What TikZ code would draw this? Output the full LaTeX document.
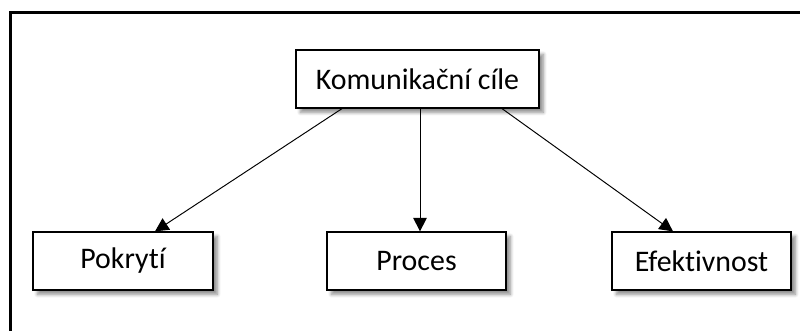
\documentclass[tikz,border=0pt]{standalone}
\usepackage{fontspec}
\setmainfont[RawFeature={-liga}]{Carlito}
\usetikzlibrary{arrows.meta,shadows.blur}
\begin{document}
\begin{tikzpicture}[
  cil/.style={draw, line width=0.7pt, fill=white, minimum height=1.16cm, font=\fontsize{17}{20}\selectfont,
    blur shadow={shadow xshift=2.5pt, shadow yshift=-2.5pt, shadow blur steps=6, shadow opacity=45}},
  conn/.style={line width=0.55pt, -{Triangle[length=0.27cm, width=0.27cm]}},
]
  \useasboundingbox (0,0) rectangle (16,-6.62);
  \clip (0,0) rectangle (16,-6.62);
  \draw[line width=1.8pt] (0.21,-0.25) rectangle (16.6,-7.2);
  \node[cil, minimum width=4.86cm] (kom) at (8.35,-1.58) {Komunikační cíle};
  \node[cil, minimum width=3.6cm]  (pok) at (2.46,-5.22) {Pokrytí};
  \node[cil, minimum width=3.58cm] (pro) at (8.33,-5.22) {Proces};
  \node[cil, minimum width=3.58cm] (efe) at (14.03,-5.22) {Efektivnost};
  \draw[conn] ([xshift=-1.51cm]kom.south) -- ([xshift=0.64cm]pok.north);
  \draw[conn] ([xshift=0.05cm]kom.south) -- ([xshift=0.07cm]pro.north);
  \draw[conn] ([xshift=1.69cm]kom.south) -- ([xshift=-0.57cm]efe.north);
\end{tikzpicture}
\end{document}
